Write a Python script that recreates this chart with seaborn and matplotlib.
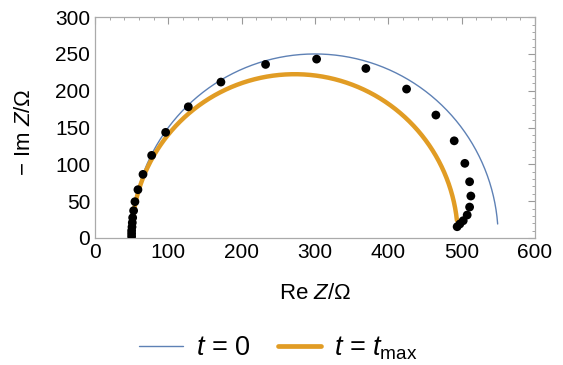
import numpy as np
import pandas as pd
import matplotlib
matplotlib.use("Agg")
import matplotlib.pyplot as plt
from matplotlib.ticker import MultipleLocator
from matplotlib.lines import Line2D
import seaborn as sns

# --- data ---
# measured impedance points (Re Z, -Im Z) in ohm
re_z = [50, 50, 50, 50.5, 50.9, 51.4, 52.7, 54.5, 58.6, 65.5, 77.3, 96.4, 127.3,
        171.8, 232.7, 302.3, 369.5, 425.0, 465.0, 490.0, 504.5, 511.0, 512.7,
        511.0, 507.7, 502.3, 497.7, 494.0]
im_z = [2, 6, 10, 15, 20.8, 27.6, 37.1, 49.3, 65.6, 86.4, 112.2, 143.5, 178.2,
        211.8, 235.8, 243.0, 230.3, 202.3, 167.0, 132.0, 101.4, 76.4, 57.0,
        42.0, 31.2, 23.5, 19.0, 15.3]

# model semicircles: series resistance, charge-transfer resistance, lowest plotted height
curve_labels = ["t = 0", "t = tmax"]
r_series = [50, 50]
r_ct = [500, 445]
min_height = [19, 24]

# --- build model curves (parallel RC semicircles) ---
frames = []
for lab, rs, rct, hmin in zip(curve_labels, r_series, r_ct, min_height):
    rad = rct / 2.0
    th0 = np.arcsin(hmin / rad)
    th = np.linspace(th0, np.pi, 400)
    frames.append(pd.DataFrame({"re": rs + rad + rad * np.cos(th),
                                "im": rad * np.sin(th),
                                "curve": lab}))
curves = pd.concat(frames, ignore_index=True)
points = pd.DataFrame({"re": re_z, "im": im_z})

sns.set_style("white")
plt.rcParams["font.family"] = ["Liberation Sans", "DejaVu Sans"]
plt.rcParams["mathtext.fontset"] = "custom"
plt.rcParams["mathtext.rm"] = "Liberation Sans"
plt.rcParams["mathtext.it"] = "Liberation Sans:italic"
plt.rcParams["text.color"] = "black"
plt.rcParams["xtick.color"] = "black"
plt.rcParams["ytick.color"] = "black"
plt.rcParams["axes.labelcolor"] = "black"

blue = "#5E81B5"
orange = "#E19C24"

fig = plt.figure(figsize=(5.63, 3.65), dpi=100)
ax = fig.add_axes([0.1687, 0.348, 0.7813, 0.605])

sns.lineplot(data=curves[curves.curve == curve_labels[0]], x="re", y="im", sort=False,
             color=blue, lw=1.0, ax=ax, legend=False)
sns.lineplot(data=curves[curves.curve == curve_labels[1]], x="re", y="im", sort=False,
             color=orange, lw=3.2, ax=ax, legend=False)
sns.scatterplot(data=points, x="re", y="im", color="black", s=40, edgecolor="none",
                ax=ax, zorder=5, legend=False)

ax.set_xlim(0, 600)
ax.set_ylim(0, 300)
ax.xaxis.set_major_locator(MultipleLocator(100))
ax.xaxis.set_minor_locator(MultipleLocator(20))
ax.yaxis.set_major_locator(MultipleLocator(50))
ax.yaxis.set_minor_locator(MultipleLocator(10))
ax.tick_params(which="both", direction="in", top=True, right=True, labelsize=15)
ax.tick_params(which="major", length=5, width=0.8, color="#999999", pad=3.5)
ax.tick_params(which="minor", length=2.5, width=0.6, color="#999999")
for s in ax.spines.values():
    s.set_color("#aaaaaa")
    s.set_linewidth(0.9)

ax.set_xlabel(r"Re $Z$/Ω", fontsize=16, va="center")
ax.set_ylabel(r"− Im $Z$/Ω", fontsize=16, va="center")
ax.xaxis.set_label_coords(0.5, (238 - 294) / 221)
ax.yaxis.set_label_coords((24.5 - 95) / 440, 0.48)

handles = [Line2D([], [], color=blue, lw=1.0),
           Line2D([], [], color=orange, lw=3.4)]
fig.legend(handles, [r"$t$ = 0", r"$t$ = $t_{\mathrm{max}}$"], loc="center",
           bbox_to_anchor=(0.495, 0.046), ncol=2, frameon=False, fontsize=19.5,
           handlelength=1.62, columnspacing=1.0, handletextpad=0.48,
           borderpad=0, borderaxespad=0)

fig.savefig("out.png", dpi=100)
